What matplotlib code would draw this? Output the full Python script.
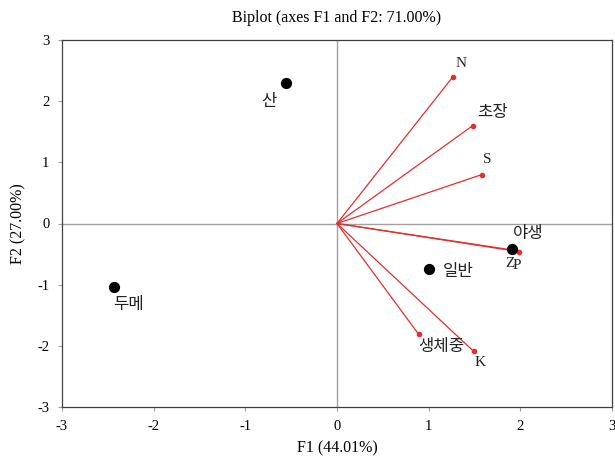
import matplotlib
matplotlib.use("Agg")
import matplotlib.pyplot as plt

# Variables (loading vectors)
var_names = ["N", "초장", "S", "Z", "P", "생체중", "K"]
var_x = [1.26, 1.48, 1.58, 1.90, 1.98, 0.89, 1.49]
var_y = [2.39, 1.60, 0.80, -0.43, -0.46, -1.81, -2.09]

# Observations
obs_names = ["산", "두메", "일반", "야생"]
obs_x = [-0.56, -2.43, 1.00, 1.91]
obs_y = [2.29, -1.03, -0.74, -0.42]

ticks = [-3, -2, -1, 0, 1, 2, 3]

serif = ["Liberation Serif", "DejaVu Serif"]
kr = ["Noto Sans CJK KR", "DejaVu Sans"]

fig = plt.figure(figsize=(6.15, 4.67), dpi=100)
ax = fig.add_axes([62/615, 60/467, 550/615, 367/467])
ax.set_xlim(-3, 3)
ax.set_ylim(-3, 3)
ax.axhline(0, color="#a0a0a0", lw=1, zorder=1)
ax.axvline(0, color="#a0a0a0", lw=1, zorder=1)

red = "#e03030"
for x, y in zip(var_x, var_y):
    ax.plot([0, x], [0, y], color=red, lw=0.9, zorder=2)
    ax.plot([x], [y], "o", color=red, ms=3, zorder=3)

ax.scatter(obs_x, obs_y, s=50, color="black", zorder=4)

# variable labels: offsets in points
var_off = {"N": (6, 5, "center", "bottom", serif, 11),
           "초장": (3, 3, "left", "bottom", kr, 12),
           "S": (4, 6, "center", "bottom", serif, 11),
           "Z": (-1, -5, "center", "top", serif, 11),
           "P": (-1, -5, "center", "top", serif, 11),
           "생체중": (0, -9, "left", "center", kr, 12),
           "K": (5, -3, "center", "top", serif, 11)}
for name, x, y in zip(var_names, var_x, var_y):
    dx, dy, ha, va, fam, fs = var_off[name]
    ax.annotate(name, (x, y), xytext=(dx, dy), textcoords="offset points",
                ha=ha, va=va, fontsize=fs, family=fam, color="#222222")

obs_off = {"산": (-12, -7, "center", "top"),
           "두메": (10, -7, "center", "top"),
           "일반": (10, -2, "left", "center"),
           "야생": (12, 5, "center", "bottom")}
for name, x, y in zip(obs_names, obs_x, obs_y):
    dx, dy, ha, va = obs_off[name]
    ax.annotate(name, (x, y), xytext=(dx, dy), textcoords="offset points",
                ha=ha, va=va, fontsize=12, family=kr, color="#222222")

ax.set_xticks(ticks)
ax.set_yticks(ticks)
ax.set_xticklabels([str(t) for t in ticks], family=serif, fontsize=10.5)
ax.set_yticklabels([str(t) for t in ticks], family=serif, fontsize=10.5)
ax.tick_params(direction="out", length=3, color="#a0a0a0", pad=6)
for s in ax.spines.values():
    s.set_color("#404040")
    s.set_linewidth(0.9)

ax.set_xlabel("F1 (44.01%)", family=serif, fontsize=11.5, labelpad=6)
ax.set_ylabel("F2 (27.00%)", family=serif, fontsize=11.5, labelpad=8)
fig.text(337/615, 1 - 18/467, "Biplot (axes F1 and F2: 71.00%)", family=serif,
         fontsize=11.5, ha="center", va="center")

fig.savefig("out.png", dpi=100)
